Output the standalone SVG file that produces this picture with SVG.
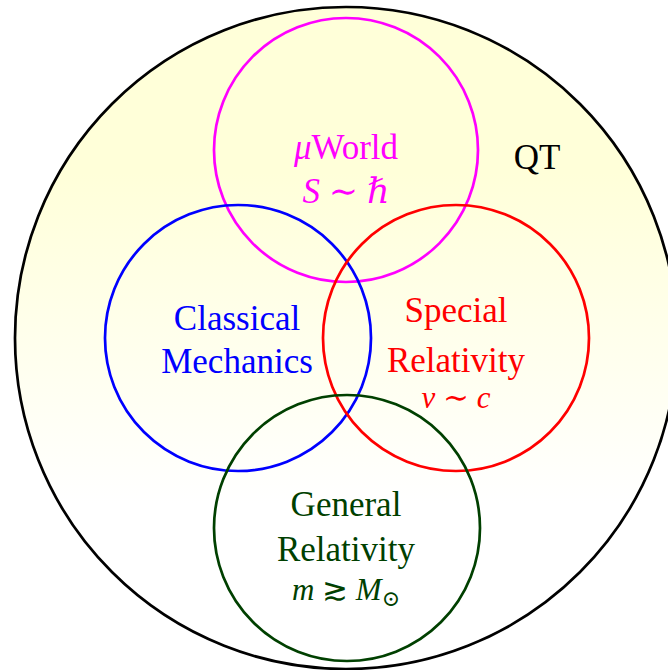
<svg xmlns="http://www.w3.org/2000/svg" width="668" height="670" viewBox="0 0 668 670">
<defs>
<linearGradient id="qtfill" gradientUnits="userSpaceOnUse" x1="0" y1="7" x2="0" y2="669">
<stop offset="0.25" stop-color="#ffffd9"/>
<stop offset="0.75" stop-color="#ffffff"/>
</linearGradient>
</defs>
<style>
text{font-family:"Liberation Serif","DejaVu Serif",serif;font-size:35px;text-anchor:middle}
.it{font-style:italic}
.sm{font-size:31px}
circle{fill:none;stroke-width:2.7}
</style>
<rect width="668" height="670" fill="#ffffff"/>
<g id="qt">
<circle cx="346" cy="338" r="331" style="fill:url(#qtfill);stroke:#000000"/>
<text x="537" y="169" fill="#000000">QT</text>
</g>
<g id="micro-world">
<circle cx="346" cy="150" r="132" stroke="#ff00ff"/>
<text x="346" y="159" fill="#ff00ff"><tspan class="it">μ</tspan>World</text>
<text x="346" y="203" fill="#ff00ff"><tspan class="it">S</tspan> ∼ <tspan class="it">ℏ</tspan></text>
</g>
<g id="classical-mechanics">
<circle cx="238" cy="338" r="133" stroke="#0000ff"/>
<text x="237" y="330" fill="#0000ff">Classical</text>
<text x="237" y="373" fill="#0000ff">Mechanics</text>
</g>
<g id="special-relativity">
<circle cx="456" cy="338" r="133" stroke="#ff0000"/>
<text x="456" y="322" fill="#ff0000">Special</text>
<text x="456" y="372" fill="#ff0000">Relativity</text>
<text x="456" y="408" class="sm" fill="#ff0000"><tspan class="it">v</tspan> ∼ <tspan class="it">c</tspan></text>
</g>
<g id="general-relativity">
<circle cx="347" cy="528" r="133" stroke="#004000"/>
<text x="346" y="516" fill="#004000">General</text>
<text x="346" y="561" fill="#004000">Relativity</text>
<text x="346" y="600" class="sm" fill="#004000"><tspan class="it">m</tspan> ≳ <tspan class="it">M</tspan><tspan font-size="22" dy="6">⊙</tspan></text>
</g>
<g id="connectors"/>
</svg>
